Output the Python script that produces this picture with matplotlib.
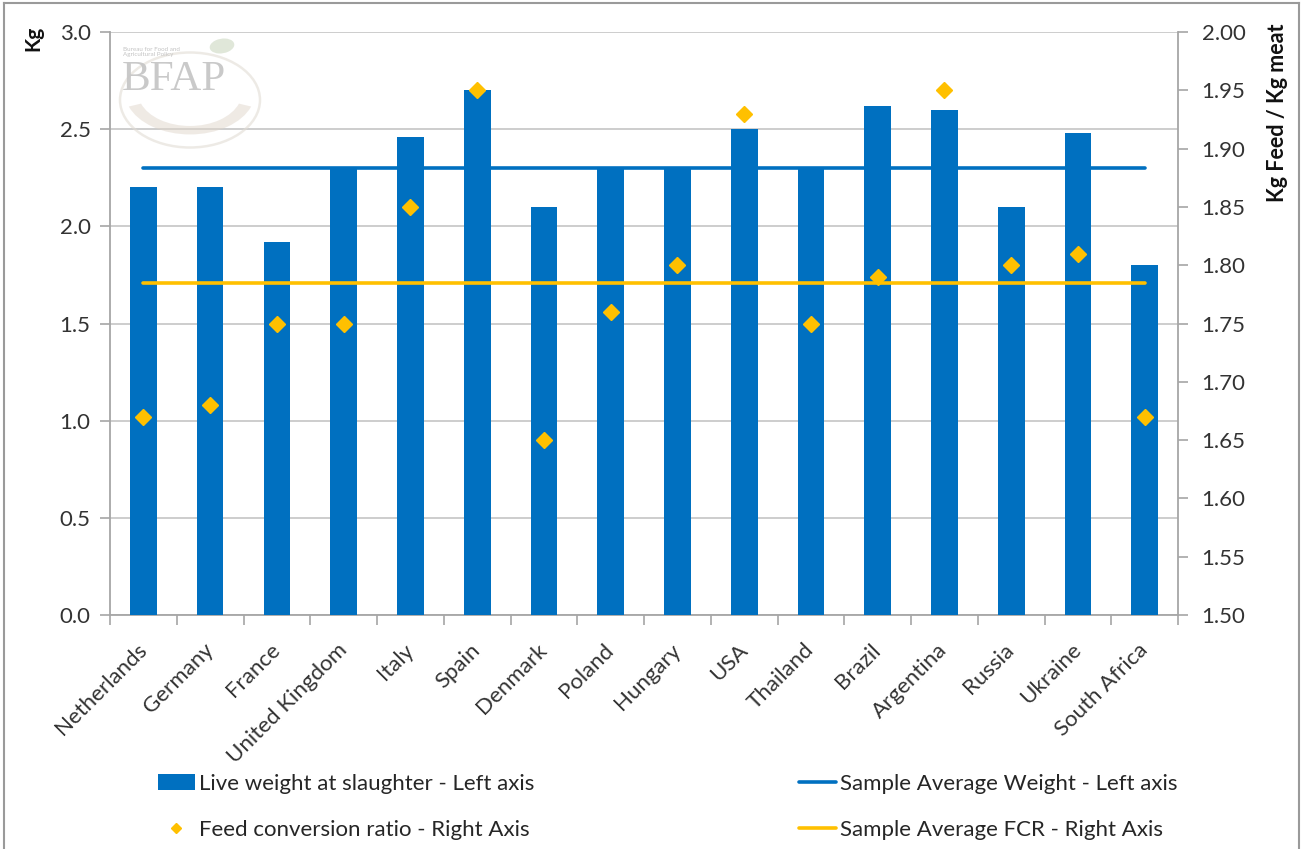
import matplotlib.pyplot as plt
import numpy as np
from matplotlib.lines import Line2D
from matplotlib.patches import Ellipse, Wedge
from matplotlib.ticker import MultipleLocator, FixedLocator

plt.rcParams['font.family'] = ['Lato', 'DejaVu Sans']

# data
countries = ["Netherlands", "Germany", "France", "United Kingdom", "Italy", "Spain",
             "Denmark", "Poland", "Hungary", "USA", "Thailand", "Brazil",
             "Argentina", "Russia", "Ukraine", "South Africa"]
live_weight = [2.20, 2.20, 1.92, 2.30, 2.46, 2.70, 2.10, 2.30,
               2.30, 2.50, 2.30, 2.62, 2.60, 2.10, 2.48, 1.80]
fcr = [1.67, 1.68, 1.75, 1.75, 1.85, 1.95, 1.65, 1.76,
       1.80, 1.93, 1.75, 1.79, 1.95, 1.80, 1.81, 1.67]
avg_weight = 2.30
avg_fcr = 1.785

BLUE = "#0070C0"
GOLD = "#FFC000"
GREY = "#A6A6A6"
TXT = "#333333"

x = np.arange(len(countries))

fig = plt.figure(figsize=(13.02, 8.49), dpi=100)
ax = fig.add_axes([0.0845, 0.2756, 0.8203, 0.6867])

bars = ax.bar(x, live_weight, width=0.4, color=BLUE, zorder=3,
              label="Live weight at slaughter - Left axis")
wline, = ax.plot(x, [avg_weight] * len(x), color=BLUE, lw=2.6, zorder=4,
                 solid_capstyle="round", label="Sample Average Weight - Left axis")

ax.set_xlim(-0.5, len(x) - 0.5)
ax.set_ylim(0, 3.0)
ax.yaxis.set_major_locator(MultipleLocator(0.5))
ax.set_yticklabels([f"{v:.1f}" for v in ax.get_yticks()])
ax.grid(axis="y", color="#C0C0C0", lw=1.1, zorder=0)

ax.set_xticks(x)
ax.set_xticklabels(countries, rotation=45, ha="right", va="center",
                   rotation_mode="anchor")
ax.xaxis.set_minor_locator(FixedLocator(np.arange(-0.5, len(x), 1.0)))
ax.tick_params(axis="x", which="major", length=0, pad=23, labelsize=16, labelcolor=TXT)
ax.tick_params(axis="x", which="minor", length=7, width=1.2, color=GREY)
ax.tick_params(axis="y", length=7, width=1.2, color=GREY, pad=7,
               labelsize=16, labelcolor=TXT)

for side in ["top", "right"]:
    ax.spines[side].set_visible(False)
for side in ["left", "bottom"]:
    ax.spines[side].set_color(GREY)
    ax.spines[side].set_linewidth(1.3)

# right axis: feed conversion ratio
ax2 = ax.twinx()
pts, = ax2.plot(x, fcr, linestyle="none", marker="D", ms=8.5, color=GOLD,
                zorder=6, label="Feed conversion ratio - Right Axis")
fline, = ax2.plot(x, [avg_fcr] * len(x), color=GOLD, lw=2.6, zorder=5,
                  solid_capstyle="round", label="Sample Average FCR - Right Axis")
ax2.set_ylim(1.5, 2.0)
ax2.yaxis.set_major_locator(MultipleLocator(0.05))
ax2.set_yticklabels([f"{v:.2f}" for v in ax2.get_yticks()])
ax2.tick_params(axis="y", length=7, width=1.2, color=GREY, pad=10,
                labelsize=16, labelcolor=TXT)
for side in ["top", "left", "bottom"]:
    ax2.spines[side].set_visible(False)
ax2.spines["right"].set_color(GREY)
ax2.spines["right"].set_linewidth(1.3)

# axis titles sit at the top of each axis
fig.text(33 / 1302, 1 - 26 / 849, "Kg", rotation=90, ha="center", va="top",
         fontsize=15, fontweight="bold", color="#111111")
fig.text(1278 / 1302, 1 - 24 / 849, "Kg Feed / Kg meat", rotation=90,
         ha="center", va="top", fontsize=15.5, fontweight="bold", color="#111111")

# faint BFAP logo in the top-left corner
logo_kw = dict(transform=fig.transFigure, zorder=1)
fig.patches.append(Ellipse((190 / 1302, 1 - 100 / 849), 140 / 1302, 95 / 849,
                           fill=False, ec="#E2DDD5", lw=1.8, alpha=0.6, **logo_kw))
fig.patches.append(Wedge((190 / 1302, 1 - 92 / 849), 0.05, 200, 340,
                         width=0.010, fc="#E0D6CB", ec="none", alpha=0.5, **logo_kw))
fig.patches.append(Ellipse((222 / 1302, 1 - 46 / 849), 26 / 1302, 14 / 849, angle=35,
                           fc="#D3DDCA", ec="none", alpha=0.7, **logo_kw))
fig.text(123 / 1302, 1 - 52 / 849, "Bureau for Food and\nAgricultural Policy",
         fontsize=4.5, color="#C4C4C4", ha="left", va="center", linespacing=1.1)
fig.text(122 / 1302, 1 - 80 / 849, "BFAP", fontsize=31, color="#C4C4C4",
         family="Liberation Serif", ha="left", va="center", alpha=0.9)

# legend below the plot
fig.legend(handles=[bars, pts, wline, fline], ncol=2, mode="expand",
           loc="upper left", bbox_to_anchor=(158 / 1302, 0.0885, 1020 / 1302, 0),
           frameon=False, fontsize=16, handlelength=1.65, handletextpad=0.2,
           labelspacing=1.18, borderpad=0, borderaxespad=0, markerscale=0.65,
           labelcolor="#262626")

# thin grey frame around the figure
for xs, ys in [([0.003, 0.003], [0, 0.996]), ([0.003, 0.998], [0.996, 0.996]),
               ([0.998, 0.998], [0, 0.996])]:
    fig.add_artist(Line2D(xs, ys, transform=fig.transFigure, color="#9A9A9A", lw=1.5))

fig.savefig("out.png", dpi=100)
